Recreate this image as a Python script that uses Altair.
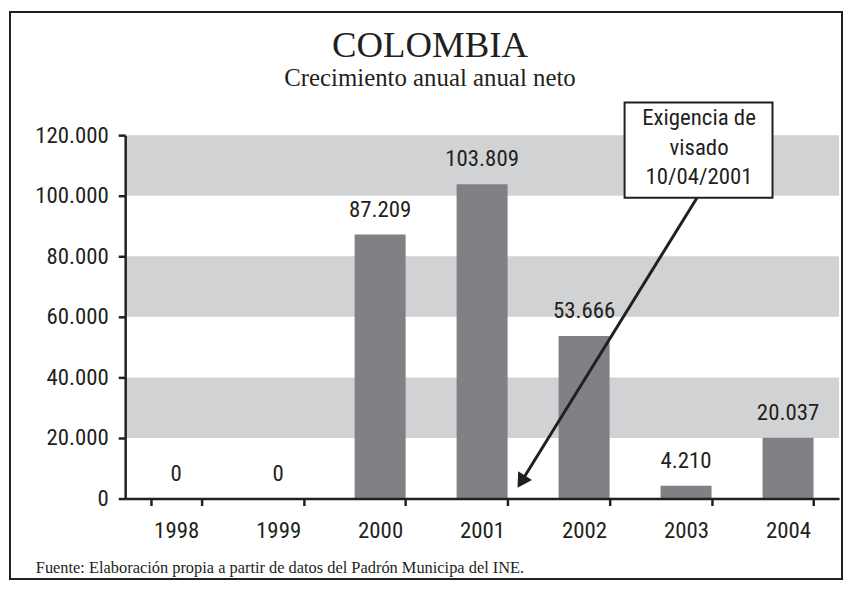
import altair as alt
import pandas as pd

# ---- data ----
years = ["1998", "1999", "2000", "2001", "2002", "2003", "2004"]
values = [0, 0, 87209, 103809, 53666, 4210, 20037]
band_lo = [20000, 60000, 100000]
band_hi = [40000, 80000, 120000]
y_ticks = [0, 20000, 40000, 60000, 80000, 100000, 120000]
title_text = "COLOMBIA"
subtitle_text = "Crecimiento anual anual neto"
note_lines = ["Exigencia de", "visado", "10/04/2001"]
footer_text = "Fuente: Elaboración propia a partir de datos del Padrón Municipa del INE."

SANS = "Liberation Sans Narrow, Roboto Condensed, Liberation Sans, sans-serif"
SERIF = "Liberation Serif, DejaVu Serif, serif"
INK = "#231f20"
BAR = "#808184"
BAND = "#d1d2d4"

W, H = 719, 366

df = pd.DataFrame({"year": years, "value": values})
df_band = pd.DataFrame({"lo": band_lo, "hi": band_hi})
one = pd.DataFrame({"k": [0]})

yscale = alt.Scale(domain=[0, 120000], nice=False, zero=True)
xscale = alt.Scale(domain=years, paddingInner=0.5, paddingOuter=0.25)

axis_style = dict(
    domainColor=INK, domainWidth=2.5, tickColor=INK, tickWidth=2.5, tickSize=7,
    labelFont=SANS, labelFontSize=23, labelColor=INK, zindex=2, title="",
)
y_axis = alt.Axis(
    values=y_ticks,
    grid=False,
    labelPadding=10,
    labelExpr="replace(format(datum.value, ','), ',', '.')",
    **axis_style,
)
x_axis = alt.Axis(labelAngle=0, tickBand="extent", labelPadding=14, **axis_style)

frame = alt.Chart(one).mark_rect(
    filled=False, stroke=INK, strokeWidth=2
).encode(
    x=alt.value(-116), x2=alt.value(722), y=alt.value(-124), y2=alt.value(447)
)

bands = alt.Chart(df_band).mark_rect(color=BAND).encode(
    y=alt.Y("lo:Q", scale=yscale, axis=y_axis),
    y2="hi:Q",
    x=alt.value(0),
    x2=alt.value(W),
)

bars = alt.Chart(df).mark_bar(color=BAR).encode(
    x=alt.X("year:N", scale=xscale, sort=years, axis=x_axis),
    y=alt.Y("value:Q", scale=yscale, axis=y_axis),
)

labels = alt.Chart(df).transform_calculate(
    lbl="replace(format(datum.value, ','), ',', '.')"
).mark_text(
    font=SANS, fontSize=23, color=INK, baseline="alphabetic", dy=-18
).encode(
    x=alt.X("year:N", scale=xscale, sort=years, axis=x_axis),
    y=alt.Y("value:Q", scale=yscale, axis=y_axis),
    text="lbl:N",
)

box = alt.Chart(one).mark_rect(fill="white", stroke=INK, strokeWidth=2).encode(
    x=alt.value(503), x2=alt.value(652), y=alt.value(-33), y2=alt.value(63)
)

box_texts = [
    alt.Chart(one).mark_text(
        text=t, font=SANS, fontSize=23, color=INK, align="center", baseline="middle"
    ).encode(x=alt.value(578), y=alt.value(yy))
    for t, yy in zip(note_lines, [-17, 13, 42])
]

arrow_line = alt.Chart(one).mark_rule(color=INK, strokeWidth=3).encode(
    x=alt.value(576), y=alt.value(63), x2=alt.value(399), y2=alt.value(349)
)

arrow_head = alt.Chart(one).mark_point(
    shape="triangle-down", filled=True, size=270, angle=32, color=INK, opacity=1
).encode(x=alt.value(399), y=alt.value(349))

title = alt.Chart(one).mark_text(
    text=title_text, font=SERIF, fontSize=37, color=INK, align="center", baseline="alphabetic"
).encode(x=alt.value(307), y=alt.value(-79))

subtitle = alt.Chart(one).mark_text(
    text=subtitle_text, font=SERIF, fontSize=25, color=INK, align="center", baseline="alphabetic"
).encode(x=alt.value(307), y=alt.value(-49))

footer = alt.Chart(one).mark_text(
    text=footer_text, font=SERIF, fontSize=16.5, color=INK, align="left", baseline="alphabetic"
).encode(x=alt.value(-90), y=alt.value(441))

chart = alt.layer(
    bands, bars, labels, frame, box, *box_texts, arrow_line, arrow_head,
    title, subtitle, footer
).properties(
    width=W,
    height=H,
    autosize=alt.AutoSizeParams(type="none"),
    padding={"left": 118, "top": 126, "right": 6, "bottom": 83},
    background="white",
).configure_view(
    strokeWidth=0
)

chart.save("out.html", embed_options={"renderer": "svg", "actions": False})
